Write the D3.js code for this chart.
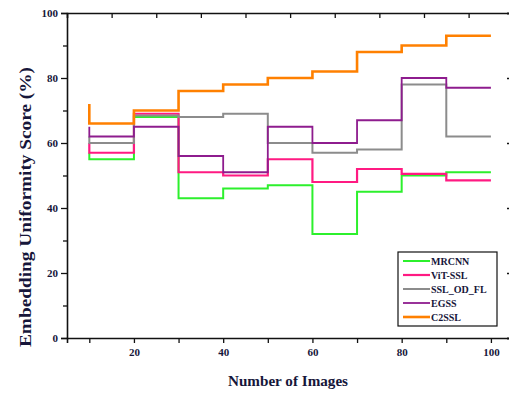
<!DOCTYPE html>
<html>
<head>
<meta charset="utf-8">
<script src="https://cdn.jsdelivr.net/npm/d3@7"></script>
<style>
  body{margin:0;background:#fff;}
  svg{display:block;}
  text{font-family:"Liberation Serif","Times New Roman",serif;font-weight:bold;fill:#16163a;}
</style>
</head>
<body>
<div id="chart"></div>
<script>
const width=509;
const height=394;

// data (stepped, value at x holds the level of the segment ending at x)
const imageCounts=[10,20,30,40,50,60,70,80,90,100];
const mrcnn=[57,55,68,43,46,47,32,45,50,51];
const vitSsl=[60,57,69,51,50,55,48,52,50.5,48.5];
const sslOdFl=[62,60,68.5,68,69,60,57,58,78,62];
const egss=[65,62,65,56,51,65,60,67,80,77];
const c2ssl=[72,66,70,76,78,80,82,88,90,93];

const seriesNames=["MRCNN","ViT-SSL","SSL_OD_FL","EGSS","C2SSL"];
const seriesValues=[mrcnn,vitSsl,sslOdFl,egss,c2ssl];
const colors=["#2cf02c","#ff1a82","#8c8c8c","#8e1c8e","#ff8000"];
const widths=[2,2.2,2,1.8,2.6];

const xTicks=[20,40,60,80,100];
const yTicks=[0,20,40,60,80,100];

const svg=d3.select("#chart")
    .append("svg")
    .attr("width",width)
    .attr("height",height);

//scales
const x=d3.scaleLinear().domain([5,104.5]).range([67,511]);
const y=d3.scaleLinear().domain([0,100]).range([338,13]);

//lines
const line=d3.line()
    .x((d,i)=>x(imageCounts[i]))
    .y(d=>y(d))
    .curve(d3.curveStepBefore);

seriesValues.forEach((vals,k)=>{
    svg.append("path")
        .attr("d",line(vals))
        .attr("fill","none")
        .attr("stroke",colors[k])
        .attr("stroke-width",widths[k]);
});

//left axis
svg.append("g")
    .attr("transform",`translate(${x(5)},0)`)
    .call(d3.axisLeft(y).tickValues(yTicks).tickSize(6).tickPadding(3).tickFormat(d3.format("d")));
svg.append("g")
    .attr("transform",`translate(${x(5)},0)`)
    .call(d3.axisLeft(y).tickValues([10,30,50,70,90]).tickSize(4).tickFormat(""))
    .select(".domain").remove();

//bottom axis
svg.append("g")
    .attr("transform",`translate(0,${y(0)})`)
    .call(d3.axisBottom(x).tickValues(xTicks).tickSize(5).tickPadding(5).tickFormat(d3.format("d")));
svg.append("g")
    .attr("transform",`translate(0,${y(0)})`)
    .call(d3.axisBottom(x).tickValues([10,30,50,70,90]).tickSize(5).tickFormat(""))
    .select(".domain").remove();

//top axis (ticks inward)
svg.append("g")
    .attr("transform",`translate(0,${y(100)})`)
    .call(d3.axisBottom(x).tickValues([15,25,35,45,55,65,75,85,95]).tickSize(5).tickFormat(""));

//right axis (ticks inward)
svg.append("g")
    .attr("transform",`translate(${x(104.5)},0)`)
    .call(d3.axisLeft(y).tickValues(yTicks).tickSize(4).tickFormat(""));

svg.selectAll(".domain").attr("stroke","#111").attr("stroke-width",1.6);
svg.selectAll(".tick line").attr("stroke","#111").attr("stroke-width",1.3);
svg.selectAll(".tick text").attr("font-size",11).attr("font-family",null).attr("fill",null);

//axis titles
svg.append("text")
    .attr("x",288)
    .attr("y",386)
    .attr("text-anchor","middle")
    .attr("font-size",15)
    .attr("textLength",120)
    .attr("lengthAdjust","spacingAndGlyphs")
    .text("Number of Images");

svg.append("text")
    .attr("transform","translate(31,207) rotate(-90)")
    .attr("text-anchor","middle")
    .attr("font-size",16)
    .attr("textLength",280)
    .attr("lengthAdjust","spacingAndGlyphs")
    .text("Embedding Uniformity Score (%)");

//legend
const legend=svg.append("g").attr("transform","translate(398,252)");
legend.append("rect")
    .attr("width",99)
    .attr("height",74)
    .attr("fill","#fff")
    .attr("stroke","#111")
    .attr("stroke-width",1.2);
seriesNames.forEach((name,k)=>{
    const ly=9+k*14;
    legend.append("line")
        .attr("x1",5).attr("x2",32)
        .attr("y1",ly).attr("y2",ly)
        .attr("stroke",colors[k])
        .attr("stroke-width",widths[k]);
    legend.append("text")
        .attr("x",33)
        .attr("y",ly+3.5)
        .attr("font-size",10)
        .text(name);
});
</script>
</body>
</html>
